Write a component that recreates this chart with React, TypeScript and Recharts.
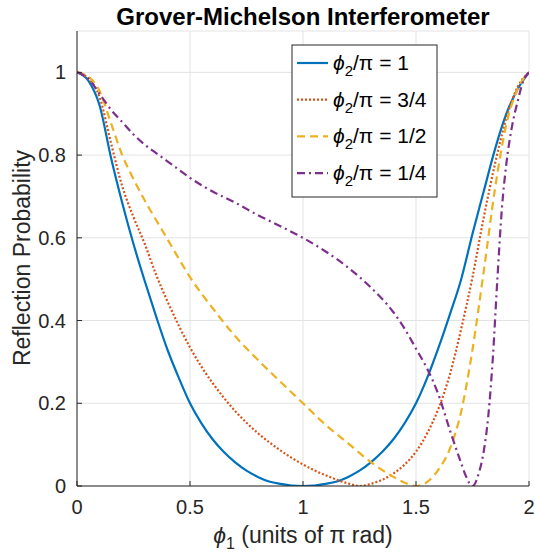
import React from 'react';
import { LineChart, Line, XAxis, YAxis, CartesianGrid } from 'recharts';

const FONT = '"Liberation Sans", Arial, Helvetica, sans-serif';
const INK = '#262626';

const xTicks = [0, 0.5, 1, 1.5, 2];
const yTicks = [0, 0.2, 0.4, 0.6, 0.8, 1];

// phi2/pi = 1
const phiA = [0, 0.05, 0.1, 0.15, 0.2, 0.25, 0.3, 0.35, 0.4, 0.45, 0.5, 0.55, 0.6, 0.65, 0.7, 0.75, 0.8, 0.85, 0.9, 0.95, 1, 1.05, 1.1, 1.15, 1.2, 1.25, 1.3, 1.35, 1.4, 1.45, 1.5, 1.55, 1.6, 1.65, 1.7, 1.75, 1.8, 1.85, 1.9, 1.95, 2];
const probA = [1, 0.98, 0.92, 0.795, 0.685, 0.585, 0.495, 0.41, 0.33, 0.262, 0.2, 0.152, 0.113, 0.082, 0.057, 0.037, 0.022, 0.011, 0.005, 0.001, 0, 0.001, 0.005, 0.011, 0.022, 0.037, 0.057, 0.082, 0.113, 0.152, 0.2, 0.262, 0.335, 0.415, 0.5, 0.61, 0.713, 0.815, 0.9, 0.96, 1];

// phi2/pi = 3/4
const phiB = [0, 0.05, 0.1, 0.15, 0.2, 0.25, 0.3, 0.35, 0.4, 0.45, 0.5, 0.55, 0.6, 0.65, 0.7, 0.75, 0.8, 0.85, 0.9, 0.95, 1, 1.05, 1.1, 1.15, 1.2, 1.25, 1.3, 1.35, 1.4, 1.45, 1.5, 1.55, 1.6, 1.65, 1.7, 1.75, 1.8, 1.85, 1.9, 1.95, 2];
const probB = [1, 0.985, 0.94, 0.83, 0.725, 0.65, 0.585, 0.511, 0.447, 0.388, 0.335, 0.289, 0.249, 0.213, 0.181, 0.153, 0.128, 0.106, 0.086, 0.068, 0.052, 0.038, 0.026, 0.015, 0.006, 0, 0.005, 0.015, 0.03, 0.052, 0.083, 0.128, 0.188, 0.27, 0.38, 0.505, 0.65, 0.78, 0.89, 0.965, 1];

// phi2/pi = 1/2
const phiC = [0, 0.05, 0.1, 0.15, 0.2, 0.25, 0.3, 0.35, 0.4, 0.45, 0.5, 0.6, 0.7, 0.8, 0.9, 1, 1.1, 1.2, 1.3, 1.4, 1.45, 1.5, 1.55, 1.6, 1.65, 1.7, 1.75, 1.8, 1.85, 1.9, 1.95, 2];
const probC = [1, 0.99, 0.955, 0.878, 0.8, 0.742, 0.69, 0.643, 0.597, 0.55, 0.505, 0.43, 0.362, 0.305, 0.252, 0.2, 0.148, 0.103, 0.058, 0.022, 0.008, 0, 0.01, 0.04, 0.09, 0.18, 0.33, 0.52, 0.72, 0.875, 0.96, 1];

// phi2/pi = 1/4
const phiD = [0, 0.05, 0.1, 0.15, 0.2, 0.25, 0.3, 0.35, 0.4, 0.45, 0.5, 0.6, 0.7, 0.8, 0.9, 1, 1.1, 1.2, 1.3, 1.4, 1.45, 1.5, 1.55, 1.6, 1.65, 1.7, 1.72, 1.75, 1.78, 1.8, 1.82, 1.84, 1.86, 1.88, 1.9, 1.925, 1.95, 1.975, 2];
const probD = [1, 0.985, 0.948, 0.91, 0.88, 0.85, 0.825, 0.805, 0.785, 0.765, 0.745, 0.712, 0.685, 0.655, 0.628, 0.6, 0.567, 0.528, 0.48, 0.42, 0.38, 0.332, 0.283, 0.22, 0.135, 0.055, 0.025, 0, 0.035, 0.085, 0.17, 0.31, 0.5, 0.67, 0.78, 0.87, 0.93, 0.98, 1];

const toPoints = (xs: number[], ys: number[]) => xs.map((x, i) => ({ x, y: ys[i] }));

const series = [
  { key: 'a', label: '1', color: '#0072BD', dash: undefined, data: toPoints(phiA, probA) },
  { key: 'b', label: '3/4', color: '#D95319', dash: '2 2', data: toPoints(phiB, probB) },
  { key: 'c', label: '1/2', color: '#EDB120', dash: '8 5', data: toPoints(phiC, probC) },
  { key: 'd', label: '1/4', color: '#7E2F8E', dash: '8 4 2 4', data: toPoints(phiD, probD) },
];

const tickStyle = { fontSize: 20, fill: INK, fontFamily: FONT };

export default function App() {
  return (
    <div style={{ position: 'absolute', left: 0, top: 0, width: 535, height: 556, background: '#fff', fontFamily: FONT }}>
      <LineChart width={535} height={556} margin={{ top: 31, right: 6, left: 37, bottom: 40 }}>
        <CartesianGrid stroke="#e3e3e3" strokeWidth={1} />
        <XAxis
          type="number"
          dataKey="x"
          domain={[0, 2]}
          ticks={xTicks}
          allowDataOverflow
          height={30}
          stroke={INK}
          tickSize={-5}
          tickMargin={19}
          tick={tickStyle}
        />
        <XAxis
          xAxisId="top"
          orientation="top"
          type="number"
          dataKey="x"
          domain={[0, 2]}
          ticks={xTicks}
          allowDataOverflow
          height={0}
          stroke={INK}
          tickSize={-5}
          tick={false}
        />
        <YAxis
          type="number"
          domain={[0, 1.1]}
          ticks={yTicks}
          allowDataOverflow
          width={40}
          stroke={INK}
          tickSize={-5}
          tickMargin={16}
          tick={tickStyle}
        />
        <YAxis
          yAxisId="right"
          orientation="right"
          type="number"
          domain={[0, 1.1]}
          ticks={yTicks}
          allowDataOverflow
          width={0}
          stroke={INK}
          tickSize={-5}
          tick={false}
        />
        {series.map(s => (
          <Line
            key={s.key}
            data={s.data}
            dataKey="y"
            type="monotone"
            stroke={s.color}
            strokeWidth={2.2}
            strokeDasharray={s.dash}
            dot={false}
            activeDot={false}
            isAnimationActive={false}
          />
        ))}
      </LineChart>

      <svg width={535} height={556} style={{ position: 'absolute', left: 0, top: 0, pointerEvents: 'none' }}>
        <text x={303} y={25} textAnchor="middle" fontSize={24} fontWeight="bold" fill="#000" fontFamily={FONT}>
          Grover-Michelson Interferometer
        </text>
        <text x={30} y={258} textAnchor="middle" fontSize={23} fill={INK} fontFamily={FONT} transform="rotate(-90 30 258)">
          Reflection Probability
        </text>
        <text x={303} y={543} textAnchor="middle" fontSize={23} fill={INK} fontFamily={FONT}>
          <tspan fontStyle="italic">ϕ</tspan>
          <tspan fontSize={16} dy={6}>1</tspan>
          <tspan dy={-6}> (units of π rad)</tspan>
        </text>

        <rect x={292} y={45} width={145} height={152} fill="#fff" stroke={INK} strokeWidth={1} />
        {series.map((s, i) => {
          const cy = 63 + i * 36.7;
          return (
            <g key={s.key}>
              <line x1={297} x2={328} y1={cy} y2={cy} stroke={s.color} strokeWidth={2.2} strokeDasharray={s.dash} />
              <text x={333} y={cy + 7} fontSize={21} fill="#000" fontFamily={FONT}>
                <tspan fontStyle="italic">ϕ</tspan>
                <tspan fontSize={15} dy={6}>2</tspan>
                <tspan dy={-6}>/π = {s.label}</tspan>
              </text>
            </g>
          );
        })}
      </svg>
    </div>
  );
}
